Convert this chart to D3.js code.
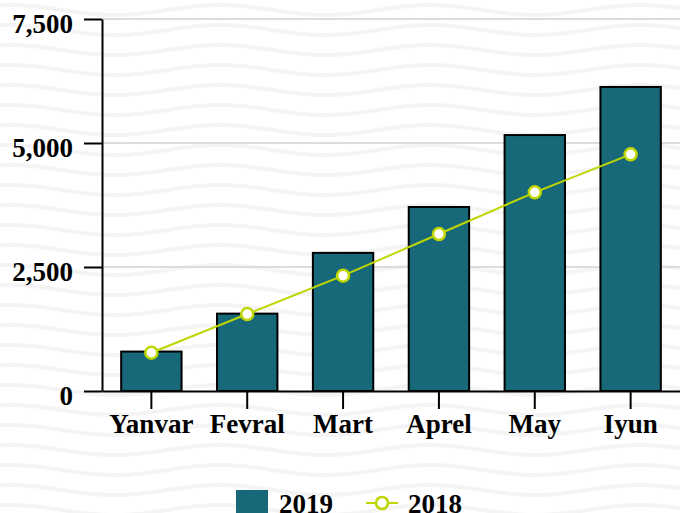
<!DOCTYPE html>
<html>
<head>
<meta charset="utf-8">
<title>Bar + line</title>
<script src="https://d3js.org/d3.v7.min.js"></script>
<style>
  body { margin: 0; background: #fff; }
  svg { display: block; }
  text { font-family: "Liberation Serif", "Times New Roman", serif; font-weight: bold; font-size: 27px; fill: #000; }
  .axis path, .axis line { stroke: #000; stroke-width: 2px; }
  .grid line { stroke: #dcdcdc; stroke-width: 2px; }
</style>
</head>
<body>
<div id="chart"></div>
<script>
// data
var months = ["Yanvar", "Fevral", "Mart", "Aprel", "May", "Iyun"];
var values2019 = [795, 1560, 2785, 3710, 5160, 6130];
var values2018 = [772, 1552, 2325, 3165, 4006, 4772];
var yTicks = [0, 2500, 5000, 7500];
var seriesNames = ["2019", "2018"];

var width = 680, height = 513;
var mLeft = 102, mRight = 680, mTop = 19, mBottom = 391;

var barColor = "#17697a", lineColor = "#bfd600";

var svg = d3.select("#chart").append("svg")
  .attr("width", width)
  .attr("height", height);

// wavy background
var defs = svg.append("defs");
var pat = defs.append("pattern")
  .attr("id", "waves")
  .attr("patternUnits", "userSpaceOnUse")
  .attr("x", 10).attr("y", 0)
  .attr("width", 210).attr("height", 20);
var wave = d3.line().curve(d3.curveBasis);
var pts = d3.range(0, 211, 5).map(function(x) {
  return [x, 10 - 5 * Math.cos(2 * Math.PI * x / 210)];
});
[-20, 0, 20].forEach(function(off) {
  pat.append("path")
    .attr("d", wave(pts))
    .attr("transform", "translate(0," + off + ")")
    .attr("fill", "none")
    .attr("stroke", "#f4f4f4")
    .attr("stroke-width", 4);
});
svg.append("rect").attr("width", width).attr("height", height).attr("fill", "url(#waves)");

var x = d3.scaleBand()
  .domain(months)
  .range([mLeft, mRight])
  .paddingInner(0.37)
  .paddingOuter(0.2);

var y = d3.scaleLinear()
  .domain([0, 7500])
  .range([mBottom, mTop]);

// grid
svg.append("g").attr("class", "grid")
  .selectAll("line")
  .data(yTicks.slice(1))
  .enter().append("line")
  .attr("x1", mLeft).attr("x2", mRight)
  .attr("y1", function(d) { return y(d); })
  .attr("y2", function(d) { return y(d); });

// bars
svg.append("g").selectAll("rect")
  .data(values2019)
  .enter().append("rect")
  .attr("x", function(d, i) { return x(months[i]); })
  .attr("y", function(d) { return y(d); })
  .attr("width", x.bandwidth())
  .attr("height", function(d) { return y(0) - y(d); })
  .attr("fill", barColor)
  .attr("stroke", "#000")
  .attr("stroke-width", 2);

// axes
var yAxis = svg.append("g").attr("class", "axis")
  .attr("transform", "translate(" + mLeft + ",0)")
  .call(d3.axisLeft(y).tickValues(yTicks).tickSize(18).tickSizeOuter(0).tickPadding(11).tickFormat(d3.format(",")));
yAxis.selectAll("text").attr("dy", "0.5em");
yAxis.attr("font-size", null).attr("font-family", null);

var xAxis = svg.append("g").attr("class", "axis")
  .attr("transform", "translate(0," + mBottom + ")")
  .call(d3.axisBottom(x).tickSize(18).tickSizeOuter(0).tickPadding(5));
xAxis.attr("font-size", null).attr("font-family", null);

// line 2018
var line = d3.line()
  .x(function(d, i) { return x(months[i]) + x.bandwidth() / 2; })
  .y(function(d) { return y(d); });

svg.append("path")
  .datum(values2018)
  .attr("d", line)
  .attr("fill", "none")
  .attr("stroke", lineColor)
  .attr("stroke-width", 2);

svg.append("g").selectAll("circle")
  .data(values2018)
  .enter().append("circle")
  .attr("cx", function(d, i) { return x(months[i]) + x.bandwidth() / 2; })
  .attr("cy", function(d) { return y(d); })
  .attr("r", 6)
  .attr("fill", "#fff")
  .attr("stroke", lineColor)
  .attr("stroke-width", 2.5);

// legend
var legend = svg.append("g");
legend.append("rect")
  .attr("x", 236).attr("y", 490)
  .attr("width", 32).attr("height", 32)
  .attr("fill", barColor);
legend.append("text").attr("x", 279).attr("y", 513).text(seriesNames[0]);

legend.append("line")
  .attr("x1", 366).attr("x2", 398)
  .attr("y1", 503).attr("y2", 503)
  .attr("stroke", lineColor).attr("stroke-width", 2);
legend.append("circle")
  .attr("cx", 382).attr("cy", 503).attr("r", 6)
  .attr("fill", "#fff").attr("stroke", lineColor).attr("stroke-width", 2.5);
legend.append("text").attr("x", 408).attr("y", 513).text(seriesNames[1]);
</script>
</body>
</html>
